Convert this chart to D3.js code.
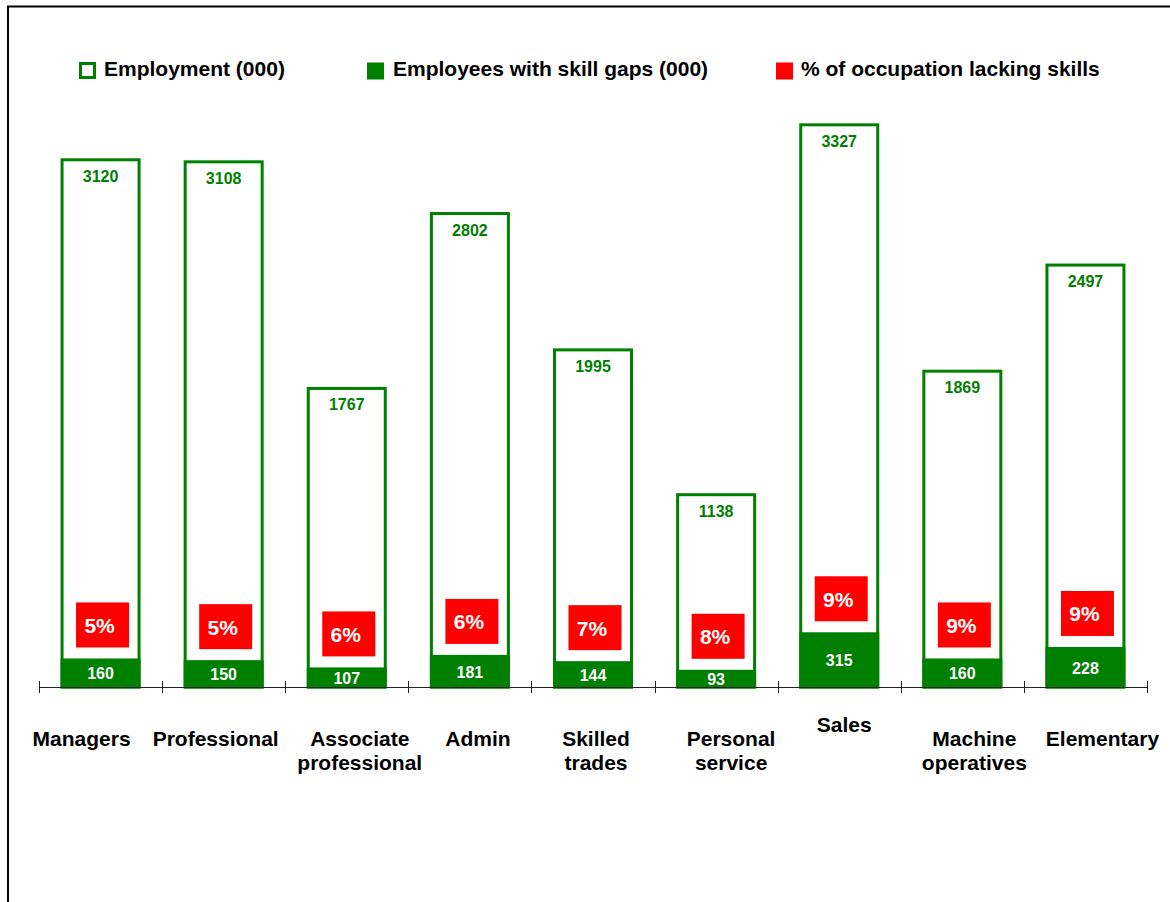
<!DOCTYPE html>
<html>
<head>
<meta charset="utf-8">
<script src="https://cdn.jsdelivr.net/npm/d3@7/dist/d3.min.js"></script>
<style>
  html, body { margin: 0; padding: 0; background: #fff; }
  svg { display: block; font-family: Arial, "Liberation Sans", Helvetica, sans-serif; }
</style>
</head>
<body>
<svg id="chart" width="1170" height="902"></svg>
<script>
// Occupational groups (line breaks mark wrapped axis labels)
const categories = [
  "Managers", "Professional", "Associate\nprofessional", "Admin",
  "Skilled\ntrades", "Personal\nservice", "Sales", "Machine\noperatives", "Elementary"
];
// Employment (000)
const employment = [3120, 3108, 1767, 2802, 1995, 1138, 3327, 1869, 2497];
// Employees with skill gaps (000)
const skillGaps = [160, 150, 107, 181, 144, 93, 315, 160, 228];
// % of occupation lacking skills
const pctLacking = [5, 5, 6, 6, 7, 8, 9, 9, 9];

const legendLabels = ["Employment (000)", "Employees with skill gaps (000)", "% of occupation lacking skills"];

// Hand-placed nudges for the category captions (px)
const captionNudgeX = [-19, -8, 13, 8, 3, 15, 5, 12, 17];
const captionNudgeY = [0, 0, 0, 0, 0, 0, -14, 0, 0];

const GREEN = "#008000";
const RED = "#ff0000";

const svg = d3.select("#chart");

// outer frame
svg.append("rect")
  .attr("x", 8).attr("y", 6.5)
  .attr("width", 1200).attr("height", 1000)
  .attr("fill", "none").attr("stroke", "#000").attr("stroke-width", 2);

const axisLeft = 39, axisRight = 1147, baseY = 687;

const x = d3.scaleBand()
  .domain(d3.range(categories.length))
  .range([axisLeft, axisRight])
  .paddingInner(0.3745)
  .paddingOuter(0.18725);

const y = d3.scaleLinear()
  .domain([0, 3120])
  .range([baseY, 159.8]);

const data = categories.map((c, i) => ({
  i, name: c, emp: employment[i], gap: skillGaps[i], pct: pctLacking[i]
}));

const g = svg.append("g");

// employment bars (outlined)
g.selectAll("rect.emp").data(data).join("rect")
  .attr("class", "emp")
  .attr("x", d => x(d.i))
  .attr("width", x.bandwidth())
  .attr("y", d => y(d.emp))
  .attr("height", d => baseY - y(d.emp))
  .attr("fill", "#fff")
  .attr("stroke", GREEN)
  .attr("stroke-width", 3);

// skill gap bars (solid)
g.selectAll("rect.gap").data(data).join("rect")
  .attr("class", "gap")
  .attr("x", d => x(d.i))
  .attr("width", x.bandwidth())
  .attr("y", d => y(d.gap))
  .attr("height", d => baseY - y(d.gap))
  .attr("fill", GREEN)
  .attr("stroke", GREEN)
  .attr("stroke-width", 3);

// category axis
const axis = svg.append("g");
axis.append("line")
  .attr("x1", axisLeft).attr("x2", axisRight)
  .attr("y1", baseY + 0.5).attr("y2", baseY + 0.5)
  .attr("stroke", "#222").attr("stroke-width", 1);
const tickXs = d3.range(categories.length + 1).map(k => axisLeft + k * x.step());
axis.selectAll("line.tick").data(tickXs).join("line")
  .attr("class", "tick")
  .attr("x1", d => Math.round(d) + 0.5).attr("x2", d => Math.round(d) + 0.5)
  .attr("y1", baseY - 6).attr("y2", baseY + 6)
  .attr("stroke", "#222").attr("stroke-width", 1);

// employment value labels (inside top)
g.selectAll("text.empLabel").data(data).join("text")
  .attr("class", "empLabel")
  .attr("x", d => x(d.i) + x.bandwidth() / 2)
  .attr("y", d => y(d.emp) + 22)
  .attr("text-anchor", "middle")
  .attr("font-size", 16).attr("font-weight", "bold")
  .attr("fill", GREEN)
  .text(d => d.emp);

// skill gap value labels (centred in bar)
g.selectAll("text.gapLabel").data(data).join("text")
  .attr("class", "gapLabel")
  .attr("x", d => x(d.i) + x.bandwidth() / 2)
  .attr("y", d => Math.max((y(d.gap) + baseY) / 2, y(d.gap) + 6) + 6)
  .attr("text-anchor", "middle")
  .attr("font-size", 16).attr("font-weight", "bold")
  .attr("fill", "#fff")
  .text(d => d.gap);

// percentage badges sitting above the skill gap bars
const badgeW = 53, badgeH = 45;
const badges = g.selectAll("g.badge").data(data).join("g")
  .attr("class", "badge")
  .attr("transform", d => `translate(${x(d.i) + x.bandwidth() / 2 + 2},${y(d.gap) - 1.5 - 11 - badgeH / 2})`);
badges.append("rect")
  .attr("x", -badgeW / 2).attr("y", -badgeH / 2)
  .attr("width", badgeW).attr("height", badgeH)
  .attr("fill", RED);
badges.append("text")
  .attr("x", -3).attr("y", 8)
  .attr("text-anchor", "middle")
  .attr("font-size", 21).attr("font-weight", "bold")
  .attr("fill", "#fff")
  .text(d => d.pct + "%");

// category captions
const lineH = 24;
const captions = svg.append("g").selectAll("text.cat").data(data).join("text")
  .attr("class", "cat")
  .attr("text-anchor", "middle")
  .attr("font-size", 21).attr("font-weight", "bold")
  .attr("fill", "#000")
  .attr("transform", d => `translate(${x(d.i) + x.bandwidth() / 2 + captionNudgeX[d.i]},${746 + captionNudgeY[d.i]})`);
captions.selectAll("tspan").data(d => d.name.split("\n")).join("tspan")
  .attr("x", 0)
  .attr("y", (s, k) => k * lineH)
  .text(s => s);

// legend
const legendItems = [
  { label: legendLabels[0], sx: 79, tx: 104, kind: "open" },
  { label: legendLabels[1], sx: 367, tx: 393, kind: "solid" },
  { label: legendLabels[2], sx: 776, tx: 801, kind: "red" }
];
const legend = svg.append("g");
legendItems.forEach(it => {
  if (it.kind === "open") {
    legend.append("rect")
      .attr("x", it.sx + 1.5).attr("y", 63.5).attr("width", 14).attr("height", 14)
      .attr("fill", "#fff").attr("stroke", GREEN).attr("stroke-width", 3);
  } else {
    legend.append("rect")
      .attr("x", it.sx).attr("y", 62.5).attr("width", 17).attr("height", 17)
      .attr("fill", it.kind === "red" ? RED : GREEN);
  }
  legend.append("text")
    .attr("x", it.tx).attr("y", 76)
    .attr("font-size", 21).attr("font-weight", "bold")
    .attr("fill", "#000")
    .text(it.label);
});
</script>
</body>
</html>
